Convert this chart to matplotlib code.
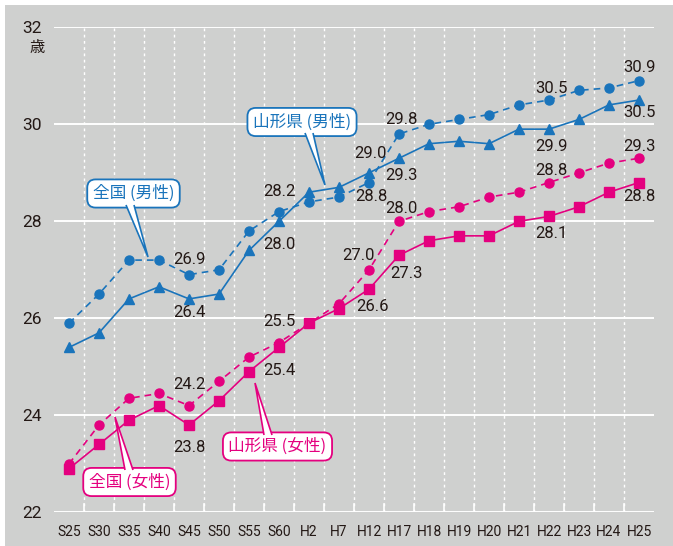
import numpy as np
import matplotlib
matplotlib.use("Agg")
import matplotlib.pyplot as plt
from matplotlib.patches import Polygon, Rectangle

plt.rcParams['font.family'] = ['Roboto', 'Noto Sans CJK JP', 'DejaVu Sans']

# data
years = ['S25', 'S30', 'S35', 'S40', 'S45', 'S50', 'S55', 'S60', 'H2', 'H7',
         'H12', 'H17', 'H18', 'H19', 'H20', 'H21', 'H22', 'H23', 'H24', 'H25']
zenkoku_male = [25.9, 26.5, 27.2, 27.2, 26.9, 27.0, 27.8, 28.2, 28.4, 28.5,
                28.8, 29.8, 30.0, 30.1, 30.2, 30.4, 30.5, 30.7, 30.75, 30.9]
yamagata_male = [25.4, 25.7, 26.4, 26.65, 26.4, 26.5, 27.4, 28.0, 28.6, 28.7,
                 29.0, 29.3, 29.6, 29.65, 29.6, 29.9, 29.9, 30.1, 30.4, 30.5]
zenkoku_female = [23.0, 23.8, 24.35, 24.45, 24.2, 24.7, 25.2, 25.5, 25.9, 26.3,
                  27.0, 28.0, 28.2, 28.3, 28.5, 28.6, 28.8, 29.0, 29.2, 29.3]
yamagata_female = [22.9, 23.4, 23.9, 24.2, 23.8, 24.3, 24.9, 25.4, 25.9, 26.2,
                   26.6, 27.3, 27.6, 27.7, 27.7, 28.0, 28.1, 28.3, 28.6, 28.8]
yticks = [22, 24, 26, 28, 30, 32]

BLUE = '#1a74bb'
PINK = '#e4007f'
BG = '#cfd0cf'
TXT = '#231815'

fig = plt.figure(figsize=(6.73, 5.46), dpi=100, facecolor=BG)
# white margins at top and left
fig.patches.append(Rectangle((0, 1 - 5 / 546), 1, 5 / 546, transform=fig.transFigure,
                             fc='white', ec='none', zorder=0))
fig.patches.append(Rectangle((0, 0), 5 / 673, 1, transform=fig.transFigure,
                             fc='white', ec='none', zorder=0))

ax = fig.add_axes([54 / 673, (546 - 512.3) / 546, 600 / 673, 485 / 546])
ax.set_facecolor(BG)
for s in ax.spines.values():
    s.set_visible(False)

x = np.arange(len(years))
ax.set_xlim(-0.5, len(years) - 0.5)
ax.set_ylim(22, 32)

# grid
for yv in yticks:
    ax.axhline(yv, color='white', lw=1.4, zorder=1)
for xv in x[:-1] + 0.5:
    ax.plot([xv, xv], [22, 32], color='white', lw=1.0, ls=(0, (2, 2.5)), zorder=1)
    ax.plot([xv, xv], [22, 22.18], color='white', lw=1.2, zorder=1)

ax.set_xticks(x)
ax.set_xticklabels(years, fontsize=10, color=TXT)
ax.set_yticks(yticks)
ax.set_yticklabels([str(v) for v in yticks], fontsize=12.5, color=TXT)
ax.tick_params(axis='x', length=0, pad=9)
ax.tick_params(axis='y', length=0, pad=9)
fig.text(37 / 673, 1 - 47.5 / 546, '歳', fontsize=11, color=TXT, ha='center', va='center',
         family=['Noto Sans CJK JP'])

# lines
ax.plot(x, zenkoku_male, color=BLUE, lw=1.2, ls=(0, (4, 3)), marker='o', ms=6.5, zorder=3)
ax.plot(x, zenkoku_female, color=PINK, lw=1.2, ls=(0, (4, 3)), marker='o', ms=6.5, zorder=3)
ax.plot(x, yamagata_male, color=BLUE, lw=1.2, marker='^', ms=7.5, zorder=4)
ax.plot(x, yamagata_female, color=PINK, lw=1.2, marker='s', ms=7, zorder=4)

# value labels: (series, index, dx px, dy px)
labels = [
    (zenkoku_male, 4, 0, 15), (zenkoku_male, 7, 0, 20), (zenkoku_male, 10, 2, -14),
    (zenkoku_male, 11, 2, 15), (zenkoku_male, 16, 2, 12), (zenkoku_male, 19, 0, 13),
    (yamagata_male, 4, 0, -14), (yamagata_male, 7, 0, -23), (yamagata_male, 10, 1, 19),
    (yamagata_male, 11, 2, -17), (yamagata_male, 16, 2, -17), (yamagata_male, 19, 0, -12),
    (zenkoku_female, 4, 0, 21), (zenkoku_female, 7, 0, 21), (zenkoku_female, 10, -11, 14),
    (zenkoku_female, 11, 2, 13), (zenkoku_female, 16, 2, 12), (zenkoku_female, 19, 0, 12),
    (yamagata_female, 4, 0, -22), (yamagata_female, 7, 0, -23), (yamagata_female, 10, 3, -17),
    (yamagata_female, 11, 7, -18), (yamagata_female, 16, 2, -17), (yamagata_female, 19, 0, -14),
]
for ser, i, dx, dy in labels:
    ax.annotate('%.1f' % ser[i], (x[i], ser[i]), xytext=(dx, dy), textcoords='offset pixels',
                ha='center', va='center', fontsize=12, color=TXT, zorder=6)


def px2d(px, py):
    return ((px - 69) / 30.0, 22 + (512.3 - py) / 48.5)


# callouts: text, color, box center px, pointer base px (two points), tip px
callouts = [
    ('全国 (男性)', BLUE, (133.5, 193.5), [(126, 205), (134, 205)], (148, 257)),
    ('山形県 (男性)', BLUE, (302, 122), [(305, 133), (313, 133)], (325, 185)),
    ('全国 (女性)', PINK, (129.5, 482), [(133, 470), (125, 470)], (115, 417)),
    ('山形県 (女性)', PINK, (277.5, 446.5), [(272, 435), (264, 435)], (255, 383)),
]
for txt, col, c, base, tip in callouts:
    cx, cy = px2d(*c)
    ax.text(cx, cy, txt, ha='center', va='center', fontsize=12, color=col,
            family=['Noto Sans CJK JP'], zorder=7,
            bbox=dict(boxstyle='round,pad=0.33,rounding_size=0.5', fc='white', ec=col, lw=1.3))
    pts = [px2d(*base[0]), px2d(*tip), px2d(*base[1])]
    ax.add_patch(Polygon(pts, closed=False, fc='white', ec=col, lw=1.2, zorder=8))

fig.savefig('out.png', dpi=100, facecolor=BG)
